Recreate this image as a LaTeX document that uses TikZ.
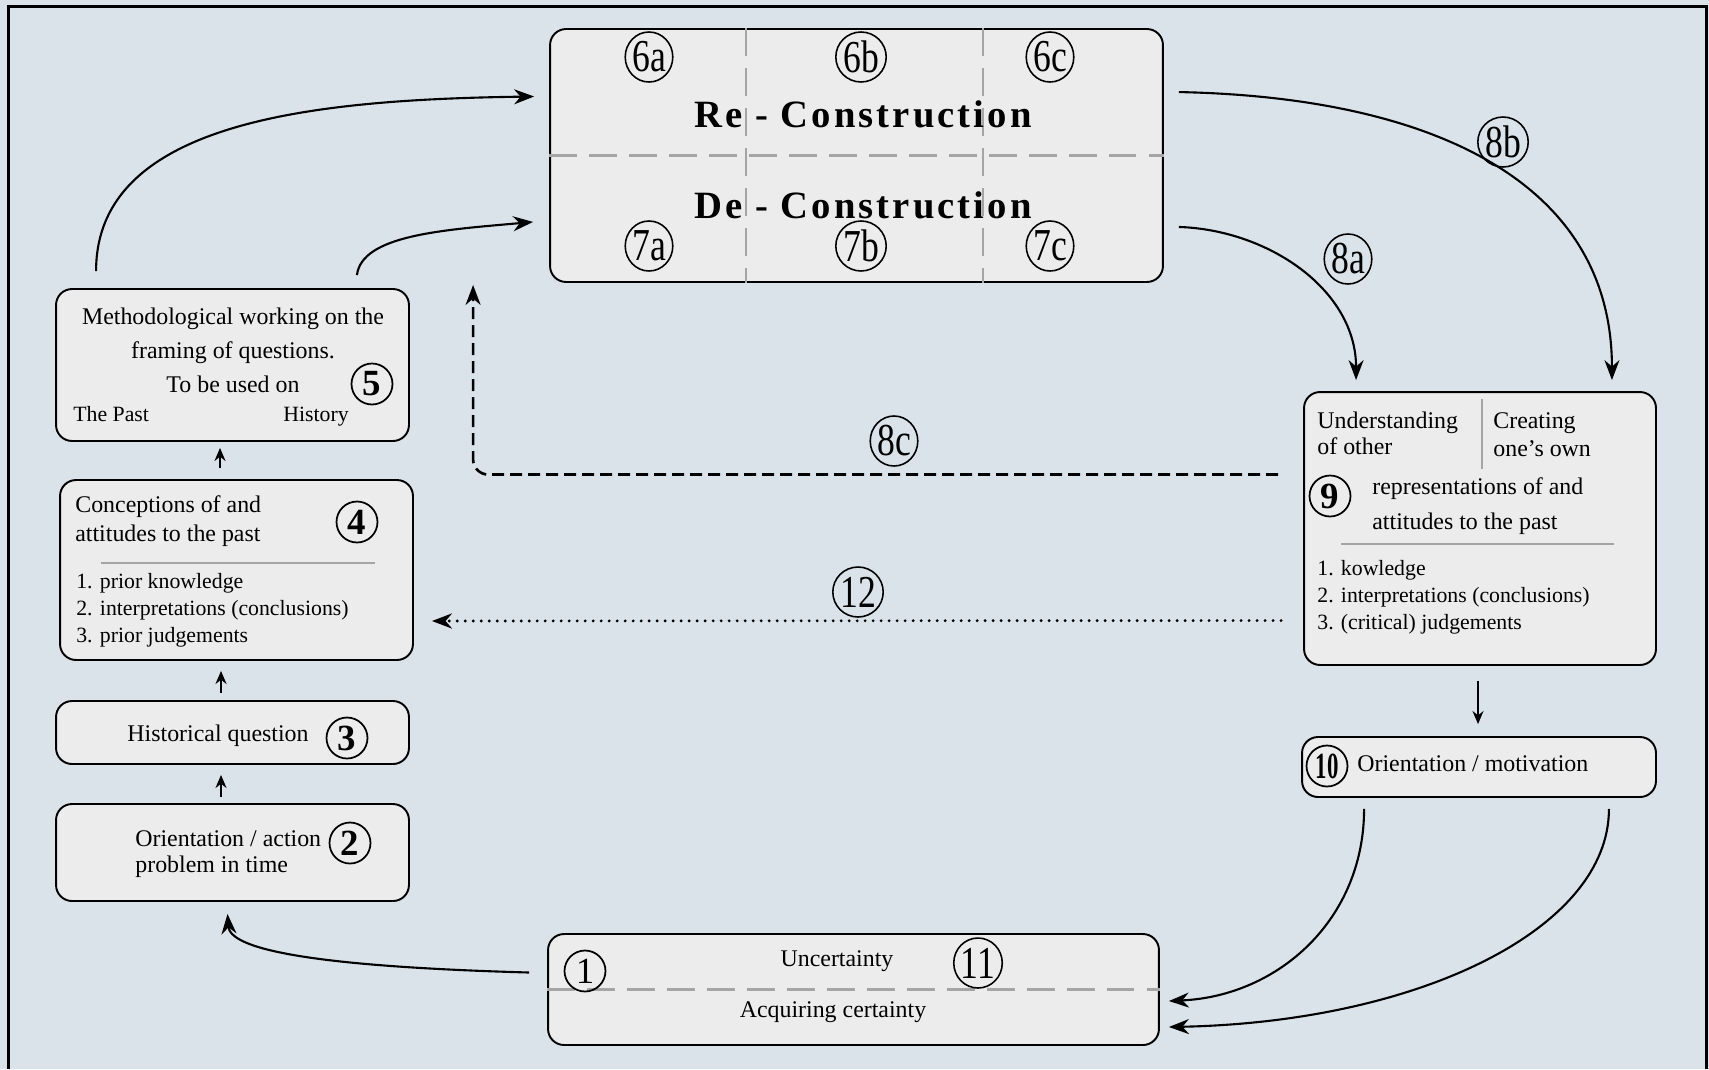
\documentclass[tikz,border=0pt]{standalone}
\usepackage{fontspec}
\setmainfont{Liberation Serif}
\usetikzlibrary{shapes.geometric,arrows.meta}
\definecolor{bgblue}{RGB}{217,227,233}
\definecolor{boxgray}{RGB}{236,236,236}
\definecolor{linegray}{RGB}{165,165,165}
\newcommand{\narrowtag}[1]{\scalebox{0.78}[1]{#1}}

\begin{document}
\begin{tikzpicture}[x=0.02cm, y=-0.02cm,
   box/.style={draw, rounded corners=0.32cm, fill=boxgray, line width=1.1pt, inner sep=0pt},
   txt/.style={inner sep=0pt, font=\fontsize{13.6}{16}\selectfont},
   lst/.style={inner sep=0pt, font=\fontsize{12.4}{15}\selectfont},
   big/.style={inner sep=0pt, anchor=base, font=\bfseries\fontsize{22}{22}\selectfont\addfontfeatures{LetterSpace=8}},
   num/.style={circle, draw, line width=1pt, inner sep=0pt, minimum size=0.82cm, font=\bfseries\fontsize{21}{21}\selectfont},
   tag/.style={ellipse, draw, line width=0.9pt, inner sep=0pt, minimum width=0.92cm, minimum height=1.0cm, font=\fontsize{26}{26}\selectfont},
   arr/.style={-{Stealth[length=0.4cm, width=0.3cm]}, line width=1.2pt},
   sarr/.style={-{Stealth[length=0.26cm, width=0.22cm]}, line width=1.2pt},
   gdash/.style={linegray, line width=1.2pt, dash pattern=on 0.55cm off 0.25cm},
   grule/.style={linegray, line width=1.2pt},
   dline/.style={arr, dash pattern=on 0.24cm off 0.12cm, line width=1.5pt, rounded corners=0.3cm},
   pline/.style={arr, dash pattern=on 0pt off 0.16cm, line cap=round, line width=1.8pt}]

\useasboundingbox (0,0) rectangle (1709,1069);
\fill[bgblue] (0,0) rectangle (1709,1069);
\draw[line width=1.7pt] (8.5,1069) -- (8.5,6.5) -- (1706,6.5) -- (1706,1069);

% boxes
\node[box, minimum width=12.26cm, minimum height=5.06cm] (rd) at (856.5,155.5) {};
\node[box, minimum width=7.06cm, minimum height=3.04cm] (b5) at (232.5,365) {};
\node[box, minimum width=7.06cm, minimum height=3.6cm] (b4) at (236.5,570) {};
\node[box, minimum width=7.06cm, minimum height=1.26cm] (b3) at (232.5,732.5) {};
\node[box, minimum width=7.06cm, minimum height=1.94cm] (b2) at (232.5,852.5) {};
\node[box, minimum width=7.04cm, minimum height=5.46cm] (b9) at (1480,528.5) {};
\node[box, minimum width=7.08cm, minimum height=1.2cm] (b10) at (1479,767) {};
\node[box, minimum width=12.22cm, minimum height=2.22cm] (b11) at (853.5,989.5) {};

% re- / de-construction
\draw[gdash] (rd.west) -- (rd.east);
\draw[gdash] ([xshift=3.94cm]rd.north west) -- ([xshift=3.94cm]rd.south west);
\draw[gdash] ([xshift=8.68cm]rd.north west) -- ([xshift=8.68cm]rd.south west);
\node[big] (re) at (863,127) {Re - Construction};
\node[big] (de) at (863,218) {De - Construction};
\node[tag] (t6a) at (649,57) {\narrowtag{6a}};
\node[tag] (t6b) at (861,57) {\narrowtag{6b}};
\node[tag] (t6c) at (1050,57) {\narrowtag{6c}};
\node[tag] (t7a) at (649,246) {\narrowtag{7a}};
\node[tag] (t7b) at (861,246) {\narrowtag{7b}};
\node[tag] (t7c) at (1050,246) {\narrowtag{7c}};

% left column
\node[txt, anchor=base] (m1) at (233,324) {Methodological working on the};
\node[txt, anchor=base] (m2) at (233,358) {framing of questions.};
\node[txt, anchor=base] (m3) at (233,392) {To be used on};
\node[lst, anchor=base west] (past) at (73,421) {The Past};
\node[lst, anchor=base west] (hist) at (283,421) {History};
\node[num] (n5) at (372,384) {5};

\node[txt, anchor=base west] (c1) at (75,512) {Conceptions of and};
\node[txt, anchor=base west] (c2) at (75,541) {attitudes to the past};
\draw[grule] (101,563) -- (375,563);
\node[lst, anchor=base west] (l1) at (76,588) {1. prior knowledge};
\node[lst, anchor=base west] (l2) at (76,615) {2. interpretations (conclusions)};
\node[lst, anchor=base west] (l3) at (76,642) {3. prior judgements};
\node[num] (n4) at (357,522) {4};

\node[txt, anchor=base] (hq) at (218,741) {Historical question};
\node[num] (n3) at (347,738) {3};

\node[txt, anchor=base west] (o1) at (135,846) {Orientation / action};
\node[txt, anchor=base west] (o2) at (135,872) {problem in time};
\node[num] (n2) at (350,843) {2};

% right column
\node[txt, anchor=base west] (u1) at (1317,428) {Understanding};
\node[txt, anchor=base west] (u2) at (1317,454) {of other};
\draw[grule] (1482,399) -- (1482,469);
\node[txt, anchor=base west] (cr1) at (1493,428) {Creating};
\node[txt, anchor=base west] (cr2) at (1493,456) {one's own};
\node[num] (n9) at (1330,496) {9};
\node[txt, anchor=base west] (r1) at (1372,494) {representations of and};
\node[txt, anchor=base west] (r2) at (1372,529) {attitudes to the past};
\draw[grule] (1341,544) -- (1614,544);
\node[lst, anchor=base west] (k1) at (1317,575) {1. kowledge};
\node[lst, anchor=base west] (k2) at (1317,602) {2. interpretations (conclusions)};
\node[lst, anchor=base west] (k3) at (1317,629) {3. (critical) judgements};

\node[num] (n10) at (1327,766) {\scalebox{0.62}[1]{10}};
\node[txt, anchor=base west] (om) at (1357,771) {Orientation / motivation};

% uncertainty
\draw[gdash] (b11.west) -- (b11.east);
\node[txt, anchor=base] (unc) at (837,966) {Uncertainty};
\node[txt, anchor=base] (acq) at (833,1017) {Acquiring certainty};
\node[num, font=\fontsize{21}{21}\selectfont] (n1) at (585,971) {1};
\node[tag] (t11) at (978,963) {\narrowtag{11}};

% connectors
\draw[sarr] ([shift={(-11.5,-6)}]b2.north) -- ([shift={(-11.5,10)}]b3.south);
\draw[sarr] ([shift={(-11.5,-7)}]b3.north) -- ([shift={(-15.5,10)}]b4.south);
\draw[sarr] ([shift={(-16.5,-11)}]b4.north) -- ([shift={(-12.5,6)}]b5.south);
\draw[sarr] ([shift={(-2,15)}]b9.south) -- ([shift={(-1,-12)}]b10.north);

\draw[arr] ([shift={(-18,-17)}]b11.west) .. controls +(-180,-5) and +(3,40) .. ([shift={(-5,12)}]b2.south);
\draw[arr] ([shift={(41,-17)}]b5.north west) .. controls +(0,-150) and +(-220,3) .. ([shift={(-15,-59)}]rd.west);
\draw[arr] ([shift={(-53,-13)}]b5.north east) .. controls +(5,-40) and +(-90,8) .. ([shift={(-16,-61)}]rd.south west);
\draw[arr] ([shift={(15,64)}]rd.north east) .. controls +(250,5) and +(0,-200) .. ([shift={(-45,-11)}]b9.north east);
\draw[arr] ([shift={(15,-56)}]rd.south east) .. controls +(90,3) and +(0,-90) .. ([shift={(53,-11)}]b9.north west);
\draw[arr] ([shift={(63,11)}]b10.south west) .. controls +(0,110) and +(110,-5) .. ([shift={(9,11.5)}]b11.east);
\draw[arr] ([shift={(-48,11)}]b10.south east) .. controls +(0,120) and +(250,-5) .. ([shift={(9,37.5)}]b11.east);

\draw[dline] ([shift={(-25,-54)}]b9.west) -| ([shift={(-76,2)}]rd.south west);
\draw[pline] ([shift={(-22,92)}]b9.west) -- ([shift={(18,51)}]b4.east);

\node[tag] (t8a) at (1348,259) {\narrowtag{8a}};
\node[tag] (t8b) at (1503,142) {\narrowtag{8b}};
\node[tag] (t8c) at (894,441) {\narrowtag{8c}};
\node[tag] (t12) at (858,592) {\narrowtag{12}};

\end{tikzpicture}
\end{document}
